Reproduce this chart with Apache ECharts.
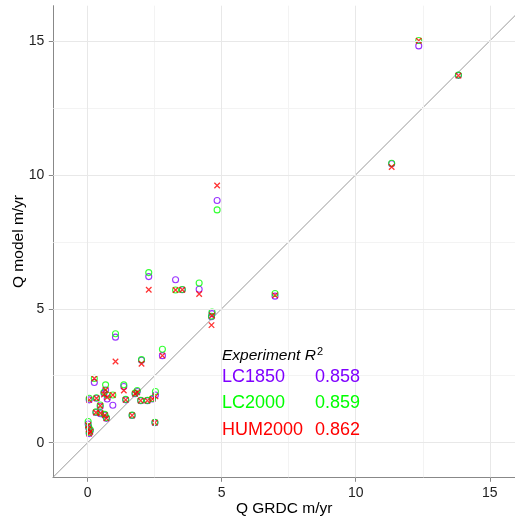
<!DOCTYPE html>
<html><head><meta charset="utf-8">
<script src="https://cdn.jsdelivr.net/npm/echarts@6/dist/echarts.min.js"></script>
<style>html,body{margin:0;padding:0;background:#fff}#c{width:515px;height:519px}</style>
</head><body><div id="c"></div>
<script>
// Observed discharge (GRDC) per station, m/yr
const grdc    = [13.83, 12.35, 11.34, 6.99, 4.83, 4.64, 4.62, 4.16, 3.53, 3.28, 2.28, 2.79, 2.01, 1.04, 0.25, 0.67, 1.35, 0.06, 0.33, 0.61, 0.73, 0.94, 0.47, 0.31, 0.48, 0.64, 0.70, 1.42, 1.77, 1.85, 1.98, 2.23, 2.42, 2.53, 1.66, 2.51, 0.02, 0.04, 0.10, 0.06];
// Modelled discharge per experiment, m/yr
const lc1850  = [13.71, 14.81, 10.41, 5.47, 9.04, 4.82, 4.70, 5.73, 5.71, 6.08, 6.20, 3.25, 3.08, 3.94, 2.25, 1.97, 2.10, 1.60, 1.66, 1.85, 1.63, 1.40, 1.35, 1.13, 1.08, 1.03, 0.91, 1.60, 1.83, 1.91, 1.57, 1.57, 1.63, 1.78, 1.02, 0.75, 0.70, 0.55, 0.45, 0.34];
const lc2000  = [13.72, 15.01, 10.43, 5.57, 8.69, 4.88, 4.72, 5.96, 5.72, 5.70, 6.35, 3.49, 3.10, 4.07, 2.40, 2.16, 2.16, 1.66, 1.68, 1.88, 1.78, 1.78, 1.41, 1.15, 1.12, 1.06, 0.93, 1.62, 1.85, 1.95, 1.58, 1.58, 1.65, 1.91, 1.03, 0.76, 0.79, 0.60, 0.48, 0.38];
const hum2000 = [13.70, 15.00, 10.29, 5.50, 9.60, 4.75, 4.39, 5.55, 5.71, 5.70, 5.71, 3.25, 2.95, 3.03, 2.40, 1.97, 1.95, 1.60, 1.66, 1.80, 1.70, 1.78, 1.38, 1.13, 1.10, 1.03, 0.91, 1.60, 1.83, 1.88, 1.57, 1.57, 1.63, 1.73, 1.02, 0.75, 0.65, 0.50, 0.41, 0.34];
const experiments = ['LC1850', 'LC2000', 'HUM2000'];
const r2Values = ['0.858', '0.859', '0.862'];
const majorTicks = [0, 5, 10, 15];
const minorTicks = [2.5, 7.5, 12.5];
const diagonal = [[-5, -5], [20, 20]];

const colors = ['#7F00FF', '#00FF00', '#FF0000'];
const FONT = '"Liberation Sans", Arial, Helvetica, sans-serif';
const pts = s => grdc.map((x, i) => [x, s[i]]);
const seriesVals = [lc1850, lc2000, hum2000];
const symbols = ['circle', 'circle', 'path://M0,0L10,10M10,0L0,10'];

const chart = echarts.init(document.getElementById('c'));

function axis(min, max, nameGap, name) {
  return {
    type: 'value', min: min, max: max, name: name,
    nameLocation: 'middle', nameGap: nameGap, nameMoveOverlap: false,
    nameTextStyle: { fontFamily: FONT, fontSize: 15.5, color: '#000' },
    axisLine: { show: true, onZero: false, lineStyle: { color: '#888', width: 1 } },
    axisTick: { show: true, length: 4.5, customValues: majorTicks, lineStyle: { color: '#888', width: 1 } },
    axisLabel: { customValues: majorTicks, margin: 9, fontFamily: FONT, fontSize: 14, color: '#222' },
    splitLine: { show: false }
  };
}

const series = [
  {
    type: 'line', data: [], z: 0, silent: true,
    markLine: {
      silent: true, symbol: 'none', label: { show: false }, animation: false,
      lineStyle: { color: '#f3f3f3', width: 1, type: 'solid' },
      data: minorTicks.map(v => ({ xAxis: v })).concat(minorTicks.map(v => ({ yAxis: v })))
    }
  },
  {
    type: 'line', data: [], z: 0, silent: true,
    markLine: {
      silent: true, symbol: 'none', label: { show: false }, animation: false,
      lineStyle: { color: '#e8e8e8', width: 1, type: 'solid' },
      data: majorTicks.map(v => ({ xAxis: v })).concat(majorTicks.map(v => ({ yAxis: v })))
    }
  },
  {
    type: 'line', data: diagonal, z: 1, silent: true, clip: true, symbol: 'none',
    lineStyle: { color: '#999', width: 1 }
  }
];
experiments.forEach((name, k) => {
  series.push({
    name: name, type: 'scatter', data: pts(seriesVals[k]), z: 2 + k,
    symbol: symbols[k], symbolSize: k === 2 ? 5.5 : 6,
    itemStyle: { color: 'rgba(0,0,0,0)', borderColor: colors[k], borderWidth: k === 2 ? 1.3 : 1.1 }
  });
});

const graphics = [{
  type: 'text', left: 222, top: 346, z: 100,
  style: {
    text: '{it|Experiment R}{sup|2}',
    rich: {
      it: { fontFamily: FONT, fontSize: 15.5, fontStyle: 'italic', fill: '#000' },
      sup: { fontFamily: FONT, fontSize: 11, fill: '#000', verticalAlign: 'top', padding: [0, 0, 8, 1] }
    }
  }
}];
experiments.forEach((name, k) => {
  graphics.push({ type: 'text', left: 222, top: 368 + k * 26.3, z: 100,
    style: { text: name, fontFamily: FONT, fontSize: 18, fill: colors[k] } });
  graphics.push({ type: 'text', left: 315, top: 368 + k * 26.3, z: 100,
    style: { text: r2Values[k], fontFamily: FONT, fontSize: 18, fill: colors[k] } });
});

chart.setOption({
  animation: false,
  backgroundColor: '#fff',
  grid: { left: 53.3, right: 0, top: 5.7, bottom: 41.7, containLabel: false, outerBoundsMode: 'none' },
  xAxis: axis(-1.28, 15.94, 23, 'Q GRDC m/yr'),
  yAxis: axis(-1.29, 16.31, 27, 'Q model m/yr'),
  series: series,
  graphic: graphics
});
</script></body></html>
